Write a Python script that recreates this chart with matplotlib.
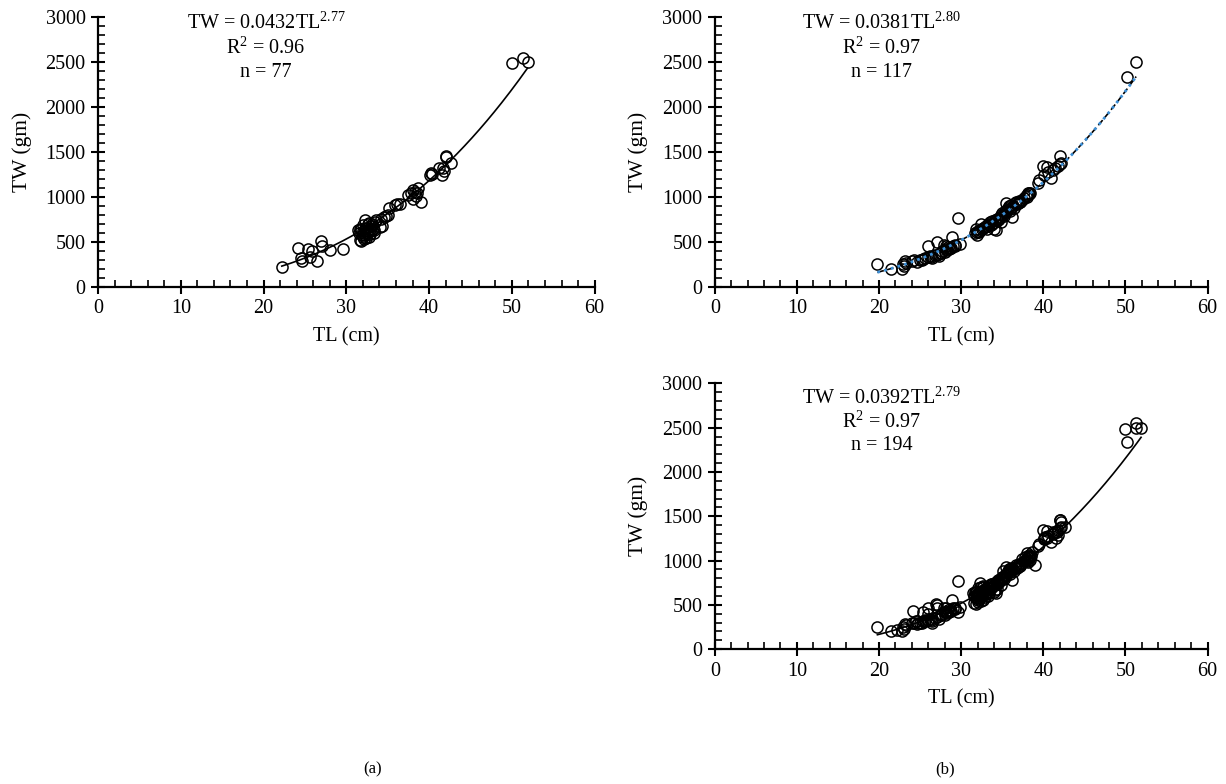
import numpy as np
import matplotlib.pyplot as plt
from matplotlib.ticker import MultipleLocator

plt.rcParams['font.family'] = ['Liberation Serif', 'DejaVu Serif']
plt.rcParams['mathtext.fontset'] = 'custom'
plt.rcParams['mathtext.rm'] = 'Liberation Serif'
plt.rcParams['mathtext.it'] = 'Liberation Serif'

# panel (a): TL (cm), TW (gm)
tl_a = [22.2, 24.1, 24.5, 24.7, 25.4, 25.6, 25.9, 26.4, 26.9, 27.0, 28.0, 29.6,
        31.4, 31.5, 31.6, 31.8, 31.8, 31.9, 32.0, 32.0, 32.0, 32.1, 32.2, 32.3,
        32.3, 32.4, 32.4, 32.5, 32.6, 32.6, 32.7, 32.8, 32.9, 33.0, 33.0, 33.1,
        33.2, 33.3, 33.5, 33.6, 34.1, 34.2, 34.3, 34.5, 34.8,
        35.1, 35.9, 36.1, 36.5, 37.4, 37.8, 38.0, 38.1, 38.3, 38.4, 38.6, 38.5,
        39.0, 40.1, 40.2, 40.4, 41.2, 41.6, 41.8, 41.7, 42.0, 42.1, 42.6, 50.0,
        51.3, 51.9,
        32.1, 32.7, 33.4, 31.7, 32.5, 35.0]
tw_a = [220, 435, 320, 290, 425, 330, 400, 290, 515, 460, 415, 425,
        630, 600, 520, 510, 650, 580, 560, 620, 690, 600, 640, 750,
        580, 540, 660, 600, 700, 620, 560, 640, 590, 680, 620, 700,
        650, 600, 720, 740, 670, 760, 680, 780, 790,
        880, 910, 920, 920, 1020, 1040, 1080, 980, 1060, 1010, 1100, 1050,
        950, 1250, 1270, 1260, 1320, 1250, 1290, 1320, 1460, 1440, 1380, 2490,
        2550, 2500,
        530, 710, 630, 640, 660, 800]

# panel (b)
tl_b = [19.8, 21.5, 22.8, 22.9, 23.1, 23.3, 24.2, 24.6, 25.0, 25.3, 25.6, 25.9,
        26.0, 26.2, 26.5, 26.8, 27.0, 27.1, 27.3, 27.5, 27.7, 27.9, 28.0, 28.1,
        28.2, 28.3, 28.4, 28.6, 28.9, 29.0, 29.2, 29.6, 29.9,
        31.7, 31.8, 31.9, 32.0, 32.2, 32.4, 32.5, 32.7, 33.0, 33.2, 33.3, 33.5,
        33.6, 33.8, 34.0, 34.1, 34.2, 34.3, 34.5, 34.7, 34.8, 34.9, 35.0, 35.2,
        35.3, 35.5, 35.6, 35.7, 35.8, 35.9, 36.0, 36.1, 36.2, 36.3, 36.5, 36.7,
        36.8, 37.0, 37.2, 37.4, 38.0, 38.1, 38.2, 38.3, 38.0,
        39.4, 39.5, 39.9, 40.1, 40.4, 40.6, 40.9, 41.2, 41.4, 41.8, 42.0, 42.1,
        42.0, 50.2, 51.3,
        23.0, 24.0, 25.2, 26.3, 27.6, 28.5, 28.8, 29.3, 31.9, 32.3, 32.9, 33.4,
        33.9, 34.4, 35.1, 35.4, 36.4, 36.9, 37.1, 37.6, 37.9, 38.4, 33.7, 34.6]
tw_b = [250, 200, 205, 255, 285, 270, 295, 280, 300, 315, 320, 460,
        330, 340, 320, 350, 500, 360, 340, 380, 400, 470, 390, 420,
        460, 410, 440, 430, 550, 460, 450, 770, 480,
        600, 640, 580, 620, 610, 700, 640, 660, 680, 650, 700, 720,
        690, 730, 650, 740, 630, 760, 750, 780, 720, 800, 820, 790,
        840, 930, 860, 880, 900, 850, 870, 910, 780, 900, 930, 950,
        920, 960, 940, 970, 1020, 1040, 1030, 1050, 1000,
        1160, 1190, 1350, 1240, 1330, 1280, 1210, 1300, 1320, 1350, 1460, 1380,
        1370, 2340, 2500,
        230, 290, 300, 330, 380, 420, 430, 470, 610, 630, 670, 690,
        710, 740, 800, 830, 880, 930, 950, 990, 1010, 1040, 700, 760]

# combined
tl_c = tl_a + tl_b
tw_c = tw_a + tw_b

# fitted TW = a * TL^b
fit_a = (0.0432, 2.77)
fit_b = (0.0381, 2.80)
fit_c = (0.0392, 2.79)

labels = [("0.0432", "2.77", "0.96", "77"),
          ("0.0381", "2.80", "0.97", "117"),
          ("0.0392", "2.79", "0.97", "194")]

fig = plt.figure(figsize=(12.26, 7.84), dpi=100)
ax_a = fig.add_axes([0.080, 0.634, 0.405, 0.344])
ax_b = fig.add_axes([0.583, 0.634, 0.402, 0.344])
ax_c = fig.add_axes([0.583, 0.172, 0.402, 0.339])


def style(ax):
    for s in ['top', 'right']:
        ax.spines[s].set_visible(False)
    for s in ['left', 'bottom']:
        ax.spines[s].set_linewidth(1.6)
    ax.set_xlim(0, 60)
    ax.set_ylim(0, 3000)
    ax.xaxis.set_major_locator(MultipleLocator(10))
    ax.xaxis.set_minor_locator(MultipleLocator(2))
    ax.yaxis.set_major_locator(MultipleLocator(500))
    ax.yaxis.set_minor_locator(MultipleLocator(100))
    ax.tick_params(which='major', direction='inout', length=10, width=1.5,
                   labelsize=14.5, pad=4)
    ax.tick_params(which='minor', direction='in', length=5, width=1.2)
    ax.set_xlabel("TL (cm)", fontsize=14.5, labelpad=6)
    ax.set_ylabel("TW (gm)", fontsize=15.5, labelpad=10)


def panel(ax, tl, tw, fit, lab, ytxt, blue=False):
    style(ax)
    ax.plot(tl, tw, 'o', mfc='none', mec='black', ms=8, mew=1.1, clip_on=False)
    x = np.linspace(min(tl), max(tl), 200)
    y = fit[0] * x ** fit[1]
    if blue:
        ax.plot(x, y, color='black', lw=1.2, ls=(0, (4, 2)))
        ax.plot(x, y, color='#3d8fd6', lw=2.0, ls=(0, (1, 1.5)))
    else:
        ax.plot(x, y, color='black', lw=1.2)
    ax.text(20.3, ytxt[0], "TW = %sTL$^{%s}$" % (lab[0], lab[1]),
            ha='center', va='center', fontsize=14.5)
    ax.text(20.3, ytxt[1], "R$^{2}$ = %s" % lab[2],
            ha='center', va='center', fontsize=14.5)
    ax.text(20.3, ytxt[2], "n = %s" % lab[3],
            ha='center', va='center', fontsize=14.5)


panel(ax_a, tl_a, tw_a, fit_a, labels[0], (2930, 2657, 2387))
panel(ax_b, tl_b, tw_b, fit_b, labels[1], (2930, 2657, 2387), blue=True)
panel(ax_c, tl_c, tw_c, fit_c, labels[2], (2833, 2563, 2296))

fig.text(0.304, 0.018, "(a)", ha='center', va='center', fontsize=12)
fig.text(0.771, 0.018, "(b)", ha='center', va='center', fontsize=12)

fig.savefig("out.png", dpi=100)
